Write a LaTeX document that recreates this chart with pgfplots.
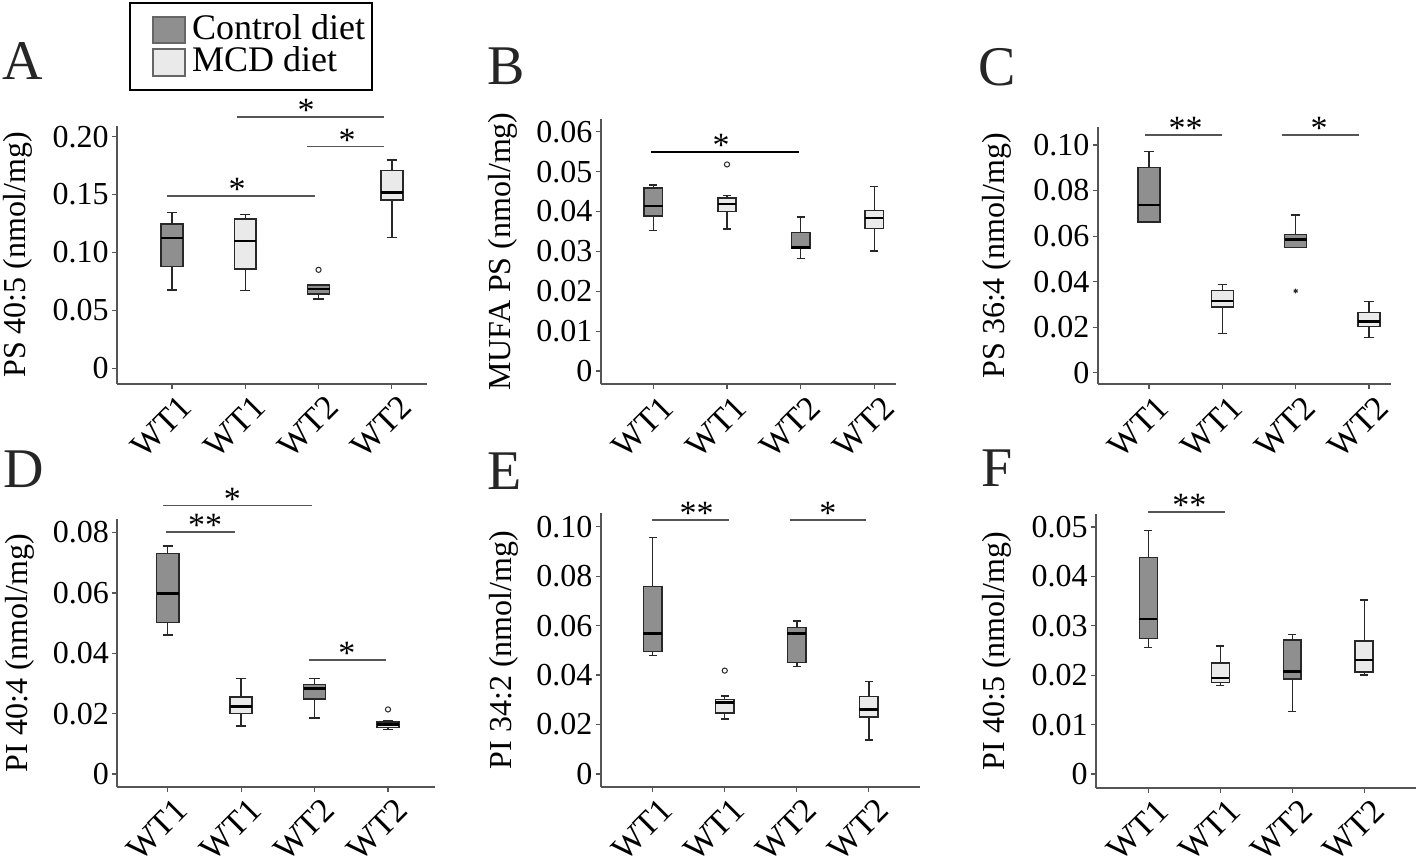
\documentclass[border=0pt]{standalone}
\usepackage{pgfplots}
\pgfplotsset{compat=1.18}
\usepgfplotslibrary{statistics}
\usepackage{fontspec}
\setmainfont{Liberation Serif}
\definecolor{ctrl}{RGB}{143,143,143}
\definecolor{mcd}{RGB}{234,234,234}
\definecolor{edge}{RGB}{40,40,40}
\definecolor{axisgray}{RGB}{85,85,85}
\newcommand\tf{\fontsize{16bp}{16bp}\selectfont}
\newcommand\xf{\fontsize{17bp}{17bp}\selectfont}
\newcommand\astfont{\fontsize{17bp}{17bp}\selectfont}
\pgfplotsset{
  panel/.style={
    scale only axis, anchor=south west, clip=false,
    scaled y ticks=false, scaled x ticks=false,
    axis x line*=bottom, axis y line*=left,
    axis line style={draw=axisgray, line width=0.8bp},
    tick align=outside, major tick length=2.5bp,
    tick style={draw=axisgray, line width=0.6bp},
    xtick={1,2,3,4}, xticklabels={WT1,WT1,WT2,WT2},
    xticklabel style={xshift=3bp, yshift=-1.5bp, rotate=45, anchor=north east, font=\xf, inner sep=0.5bp},
    yticklabel style={font=\tf, inner sep=1.5bp},
    every axis y label/.style={rotate=90, anchor=center, font=\tf},
    boxplot/draw direction=y,
    boxplot/every median/.style={draw=black, line width=1.3bp},
    boxplot/every whisker/.style={draw=edge, line width=0.7bp},
  },
  ctrlbox/.style={fill=ctrl, draw=edge, line width=0.75bp, mark=o, mark size=1.3bp,
    mark options={draw=edge, fill=white, line width=0.5bp}},
  mcdbox/.style={fill=mcd, draw=edge, line width=0.75bp, mark=o, mark size=1.3bp,
    mark options={draw=edge, fill=white, line width=0.5bp}},
  sig/.style={draw=axisgray, line width=0.8bp, mark=none, forget plot},
}
\newcommand\sigstar[2]{\node[anchor=south, inner sep=0pt, yshift=-2.5bp, font=\astfont] at (axis cs:#1) {#2};}
\begin{document}
\begin{tikzpicture}
\useasboundingbox (0,0) rectangle (709bp,429bp);

% ---------- A ----------
\begin{axis}[panel, at={(58.5bp,237bp)}, width=155bp, height=129bp,
  xmin=0.25, xmax=4.48, ymin=-0.0136, ymax=0.2092,
  ytick={0,0.05,0.1,0.15,0.2}, yticklabels={0,0.05,0.10,0.15,0.20},
  ylabel={PS 40:5 (nmol/mg)},
  every axis y label/.append style={at={(axis description cs:-0.319,0.5)}},
  boxplot/box extend=0.30, boxplot/whisker extend=0.14]
\addplot[ctrlbox, boxplot prepared={draw position=1, lower whisker=0.0677, lower quartile=0.0878, median=0.1126, upper quartile=0.1247, upper whisker=0.1347}] coordinates {};
\addplot[mcdbox, boxplot prepared={draw position=2, lower whisker=0.0671, lower quartile=0.0855, median=0.1100, upper quartile=0.1290, upper whisker=0.1327}] coordinates {};
\addplot[ctrlbox, boxplot prepared={draw position=3, lower whisker=0.0599, lower quartile=0.0642, median=0.0683, upper quartile=0.0720, upper whisker=0.0725}] table[row sep=\\, y index=0] {data\\ 0.085\\};
\addplot[mcdbox, boxplot prepared={draw position=4, lower whisker=0.1129, lower quartile=0.1454, median=0.1518, upper quartile=0.1708, upper whisker=0.1800}] coordinates {};
\addplot[sig] coordinates {(0.93,0.149) (2.95,0.149)};
\addplot[sig] coordinates {(1.89,0.2169) (3.90,0.2169)};
\addplot[sig] coordinates {(2.84,0.1915) (3.90,0.1915)};
\sigstar{1.89,0.149}{*}
\sigstar{2.83,0.2169}{*}
\sigstar{3.39,0.1915}{*}
\end{axis}

% ---------- B ----------
\begin{axis}[panel, at={(300.35bp,236.85bp)}, width=147.65bp, height=132.65bp,
  xmin=0.285, xmax=4.295, ymin=-0.00334, ymax=0.0632,
  ytick={0,0.01,0.02,0.03,0.04,0.05,0.06}, yticklabels={0,0.01,0.02,0.03,0.04,0.05,0.06},
  ylabel={MUFA PS (nmol/mg)},
  every axis y label/.append style={at={(axis description cs:-0.331,0.5)}},
  boxplot/box extend=0.25, boxplot/whisker extend=0.11]
\addplot[ctrlbox, boxplot prepared={draw position=1, lower whisker=0.0352, lower quartile=0.0389, median=0.0414, upper quartile=0.0459, upper whisker=0.0466}] coordinates {};
\addplot[mcdbox, boxplot prepared={draw position=2, lower whisker=0.0356, lower quartile=0.0400, median=0.0419, upper quartile=0.0434, upper whisker=0.0440}] table[row sep=\\, y index=0] {data\\ 0.0518\\};
\addplot[ctrlbox, boxplot prepared={draw position=3, lower whisker=0.0282, lower quartile=0.0308, median=0.0310, upper quartile=0.0347, upper whisker=0.0386}] coordinates {};
\addplot[mcdbox, boxplot prepared={draw position=4, lower whisker=0.0301, lower quartile=0.0357, median=0.0384, upper quartile=0.0402, upper whisker=0.0463}] coordinates {};
\addplot[sig, draw=black, line width=1.3bp] coordinates {(0.97,0.0549) (2.98,0.0549)};
\sigstar{1.92,0.0549}{*}
\end{axis}

% ---------- C ----------
\begin{axis}[panel, at={(548.85bp,236.85bp)}, width=146.65bp, height=128.5bp,
  xmin=0.30, xmax=4.30, ymin=-0.0051, ymax=0.1078,
  ytick={0,0.02,0.04,0.06,0.08,0.1}, yticklabels={0,0.02,0.04,0.06,0.08,0.10},
  ylabel={PS 36:4 (nmol/mg)},
  every axis y label/.append style={at={(axis description cs:-0.343,0.5)}},
  boxplot/box extend=0.30, boxplot/whisker extend=0.13]
\addplot[ctrlbox, boxplot prepared={draw position=1, lower whisker=0.0663, lower quartile=0.0663, median=0.0736, upper quartile=0.0902, upper whisker=0.0972}] coordinates {};
\addplot[mcdbox, boxplot prepared={draw position=2, lower whisker=0.0173, lower quartile=0.0288, median=0.0315, upper quartile=0.0362, upper whisker=0.0387}] coordinates {};
\addplot[ctrlbox, mark=asterisk, mark size=1.2bp, boxplot prepared={draw position=3, lower whisker=0.0549, lower quartile=0.0549, median=0.0586, upper quartile=0.0608, upper whisker=0.0693}] table[row sep=\\, y index=0] {data\\ 0.0359\\};
\addplot[mcdbox, boxplot prepared={draw position=4, lower whisker=0.0155, lower quartile=0.0202, median=0.0224, upper quartile=0.0264, upper whisker=0.0312}] coordinates {};
\addplot[sig] coordinates {(0.95,0.1044) (2.00,0.1044)};
\addplot[sig] coordinates {(2.81,0.1044) (3.86,0.1044)};
\sigstar{1.50,0.1044}{**}
\sigstar{3.32,0.1044}{*}
\end{axis}

% ---------- D ----------
\begin{axis}[panel, at={(58.65bp,35.5bp)}, width=158.85bp, height=133.85bp,
  xmin=0.313, xmax=4.64, ymin=-0.0043, ymax=0.0844,
  ytick={0,0.02,0.04,0.06,0.08}, yticklabels={0,0.02,0.04,0.06,0.08},
  ylabel={PI 40:4 (nmol/mg)},
  every axis y label/.append style={at={(axis description cs:-0.306,0.5)}},
  boxplot/box extend=0.30, boxplot/whisker extend=0.14]
\addplot[ctrlbox, boxplot prepared={draw position=1, lower whisker=0.0460, lower quartile=0.0502, median=0.0598, upper quartile=0.0731, upper whisker=0.0756}] coordinates {};
\addplot[mcdbox, boxplot prepared={draw position=2, lower whisker=0.0159, lower quartile=0.0200, median=0.0224, upper quartile=0.0255, upper whisker=0.0316}] coordinates {};
\addplot[ctrlbox, boxplot prepared={draw position=3, lower whisker=0.0185, lower quartile=0.0248, median=0.0284, upper quartile=0.0297, upper whisker=0.0316}] coordinates {};
\addplot[mcdbox, boxplot prepared={draw position=4, lower whisker=0.0148, lower quartile=0.0154, median=0.0165, upper quartile=0.0173, upper whisker=0.0178}] table[row sep=\\, y index=0] {data\\ 0.0214\\};
\addplot[sig] coordinates {(0.94,0.0890) (2.96,0.0890)};
\addplot[sig] coordinates {(0.977,0.0801) (1.91,0.0801)};
\addplot[sig] coordinates {(2.92,0.0377) (3.97,0.0377)};
\sigstar{1.88,0.0890}{*}
\sigstar{1.51,0.0801}{**}
\sigstar{3.44,0.0377}{*}
\end{axis}

% ---------- E ----------
\begin{axis}[panel, at={(300.35bp,35.5bp)}, width=159.65bp, height=136.85bp,
  xmin=0.278, xmax=4.71, ymin=-0.00526, ymax=0.1054,
  ytick={0,0.02,0.04,0.06,0.08,0.1}, yticklabels={0,0.02,0.04,0.06,0.08,0.10},
  ylabel={PI 34:2 (nmol/mg)},
  every axis y label/.append style={at={(axis description cs:-0.303,0.5)}},
  boxplot/box extend=0.26, boxplot/whisker extend=0.11]
\addplot[ctrlbox, boxplot prepared={draw position=1, lower whisker=0.0480, lower quartile=0.0496, median=0.0569, upper quartile=0.0759, upper whisker=0.0957}] coordinates {};
\addplot[mcdbox, boxplot prepared={draw position=2, lower whisker=0.0222, lower quartile=0.0247, median=0.0288, upper quartile=0.0302, upper whisker=0.0315}] table[row sep=\\, y index=0] {data\\ 0.0418\\};
\addplot[ctrlbox, boxplot prepared={draw position=3, lower whisker=0.0435, lower quartile=0.0451, median=0.0567, upper quartile=0.0593, upper whisker=0.0619}] coordinates {};
\addplot[mcdbox, boxplot prepared={draw position=4, lower whisker=0.0137, lower quartile=0.0230, median=0.0261, upper quartile=0.0313, upper whisker=0.0373}] coordinates {};
\addplot[sig] coordinates {(0.99,0.1028) (2.06,0.1028)};
\addplot[sig] coordinates {(2.90,0.1028) (3.96,0.1028)};
\sigstar{1.61,0.1028}{**}
\sigstar{3.43,0.1028}{*}
\end{axis}

% ---------- F ----------
\begin{axis}[panel, at={(548bp,35.15bp)}, width=160bp, height=136.7bp,
  xmin=0.273, xmax=4.72, ymin=-0.00277, ymax=0.05256,
  ytick={0,0.01,0.02,0.03,0.04,0.05}, yticklabels={0,0.01,0.02,0.03,0.04,0.05},
  ylabel={PI 40:5 (nmol/mg)},
  every axis y label/.append style={at={(axis description cs:-0.309,0.5)}},
  boxplot/box extend=0.25, boxplot/whisker extend=0.11]
\addplot[ctrlbox, boxplot prepared={draw position=1, lower whisker=0.0256, lower quartile=0.0274, median=0.0314, upper quartile=0.0438, upper whisker=0.0493}] coordinates {};
\addplot[mcdbox, boxplot prepared={draw position=2, lower whisker=0.0179, lower quartile=0.0185, median=0.0194, upper quartile=0.0225, upper whisker=0.0259}] coordinates {};
\addplot[ctrlbox, boxplot prepared={draw position=3, lower whisker=0.0126, lower quartile=0.0192, median=0.0207, upper quartile=0.0271, upper whisker=0.0282}] coordinates {};
\addplot[mcdbox, boxplot prepared={draw position=4, lower whisker=0.0200, lower quartile=0.0206, median=0.0231, upper quartile=0.0269, upper whisker=0.0352}] coordinates {};
\addplot[sig] coordinates {(1.00,0.0530) (2.07,0.0530)};
\sigstar{1.57,0.0530}{**}
\end{axis}

% ---------- panel letters ----------
\begin{scope}[every node/.style={anchor=base west, inner sep=0pt, font=\fontsize{28bp}{28bp}\selectfont, text=black!85}]
\node at (1bp,389bp) {A};
\node at (243.5bp,386.5bp) {B};
\node at (489bp,386bp) {C};
\node at (1.5bp,185bp) {D};
\node at (243.5bp,184bp) {E};
\node at (490.5bp,185.5bp) {F};
\end{scope}

% ---------- legend ----------
\draw[line width=1bp, black] (65bp,384bp) rectangle (186bp,427.65bp);
\draw[fill=ctrl, draw=black!60, line width=0.7bp] (76.5bp,407.5bp) rectangle (92.5bp,420.5bp);
\draw[fill=mcd, draw=black!60, line width=0.7bp] (76.5bp,391bp) rectangle (92.5bp,404.5bp);
\node[anchor=base west, inner sep=0pt, font=\fontsize{18bp}{18bp}\selectfont] at (95.8bp,409bp) {Control diet};
\node[anchor=base west, inner sep=0pt, font=\fontsize{18bp}{18bp}\selectfont] at (95.8bp,393bp) {MCD diet};
\end{tikzpicture}
\end{document}
